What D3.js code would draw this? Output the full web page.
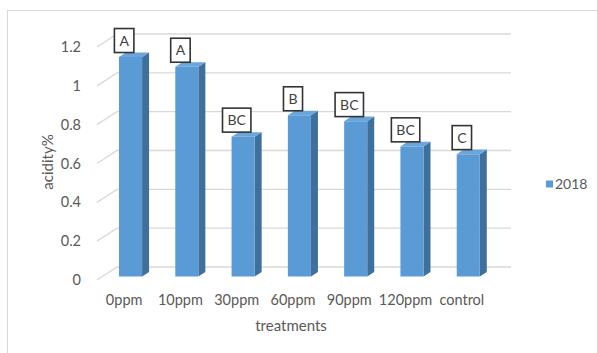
<!DOCTYPE html>
<html>
<head>
<meta charset="utf-8">
<script src="https://cdn.jsdelivr.net/npm/d3@7"></script>
<style>
  body { margin: 0; background: #fff; }
  svg { display: block; }
  text { font-family: Lato, "Open Sans", sans-serif; }
</style>
</head>
<body>
<svg id="chart" width="597" height="353"></svg>
<script>
// Acidity (%) by treatment, season 2018
const categories = ["0ppm", "10ppm", "30ppm", "60ppm", "90ppm", "120ppm", "control"];
const values2018 = [1.13, 1.08, 0.72, 0.83, 0.80, 0.67, 0.63];
const letters = ["A", "A", "BC", "B", "BC", "BC", "C"];
const yTicks = [0, 0.2, 0.4, 0.6, 0.8, 1, 1.2];
const seriesName = "2018";

const svg = d3.select("#chart");

// Oblique projection of the 3D plot box: depth runs 0 (front) to 1 (back wall)
const floorY = 280, frontX0 = 97, frontX1 = 491;
const depthDx = 20, depthDy = -13;

const x = d3.scaleBand().domain(categories).range([frontX0, frontX1]).paddingInner(0).paddingOuter(0);
const y = d3.scaleLinear().domain([0, 1.2]).range([floorY, 47]);

const proj = (px, v, depth) => [px + depth * depthDx, y(v) + depth * depthDy];

// Chart area border
svg.append("rect")
  .attr("x", 7.5).attr("y", 10.5).attr("width", 620).attr("height", 400)
  .attr("fill", "none").attr("stroke", "#d9d9d9").attr("stroke-width", 1);

// Gridlines: side wall diagonals plus back wall horizontals
const grid = svg.append("g").attr("stroke", "#d9d9d9").attr("stroke-width", 1.3).attr("fill", "none");
yTicks.forEach(t => {
  const a = proj(frontX0, t, 0), b = proj(frontX0, t, 1), c = proj(frontX1, t, 1);
  grid.append("polyline").attr("points", [a, b, c].map(p => p.join(",")).join(" "));
});

// Y tick labels
svg.append("g").selectAll("text").data(yTicks).join("text")
  .attr("x", 81).attr("y", d => y(d)).attr("dy", "0.35em")
  .attr("text-anchor", "end").attr("font-size", 14.5).attr("fill", "#595959")
  .text(d => d3.format("")(d));

// Bars as prisms (front, side, top faces)
const barFrac = 0.41, dFront = 0.27, dBack = 0.62;
const bars = svg.append("g");
categories.forEach((c, i) => {
  const v = values2018[i];
  const w = x.bandwidth() * barFrac;
  const x0 = x(c) + (x.bandwidth() - w) / 2;
  const x1 = x0 + w;
  const fbl = proj(x0, 0, dFront), fbr = proj(x1, 0, dFront);
  const ftl = proj(x0, v, dFront), ftr = proj(x1, v, dFront);
  const bbr = proj(x1, 0, dBack), btr = proj(x1, v, dBack), btl = proj(x0, v, dBack);
  const poly = pts => pts.map(p => p.join(",")).join(" ");
  bars.append("polygon").attr("points", poly([fbr, bbr, btr, ftr])).attr("fill", "#3f6f9b");
  bars.append("polygon").attr("points", poly([ftl, ftr, btr, btl])).attr("fill", "#6aa6dc");
  bars.append("polygon").attr("points", poly([fbl, fbr, ftr, ftl])).attr("fill", "#5b9bd5");

  // Significance letter box above the bar
  const cx = (x0 + x1) / 2 - 1;
  const boxBottom = btl[1];
  const t = bars.append("text").attr("font-size", 14).attr("fill", "#404040")
    .attr("text-anchor", "middle").text(letters[i]);
  const tw = t.node().getComputedTextLength();
  const bw = tw + 10, bh = 24;
  bars.insert("rect", "text:last-child")
    .attr("x", cx - bw / 2).attr("y", boxBottom - bh).attr("width", bw).attr("height", bh)
    .attr("fill", "#fff").attr("stroke", "#333").attr("stroke-width", 1.6);
  t.attr("x", cx).attr("y", boxBottom - bh / 2).attr("dy", "0.36em");
});

// X category labels
svg.append("g").selectAll("text").data(categories).join("text")
  .attr("x", d => x(d) + x.bandwidth() / 2 - 1).attr("y", 300).attr("dy", "0.35em")
  .attr("text-anchor", "middle").attr("font-size", 14.5).attr("fill", "#595959")
  .text(d => d);

// Axis titles
svg.append("text").attr("x", 291).attr("y", 326).attr("dy", "0.35em")
  .attr("text-anchor", "middle").attr("font-size", 15).attr("fill", "#595959")
  .text("treatments");
svg.append("text").attr("transform", "translate(48,162) rotate(-90)").attr("dy", "0.35em")
  .attr("text-anchor", "middle").attr("font-size", 15).attr("fill", "#595959")
  .text("acidity%");

// Legend
const lg = svg.append("g").attr("transform", "translate(546,184)");
lg.append("rect").attr("x", 0).attr("y", -3.5).attr("width", 7).attr("height", 7).attr("fill", "#5b9bd5");
lg.append("text").attr("x", 9).attr("y", 0).attr("dy", "0.35em").attr("font-size", 14)
  .attr("fill", "#595959").text(seriesName);
</script>
</body>
</html>
